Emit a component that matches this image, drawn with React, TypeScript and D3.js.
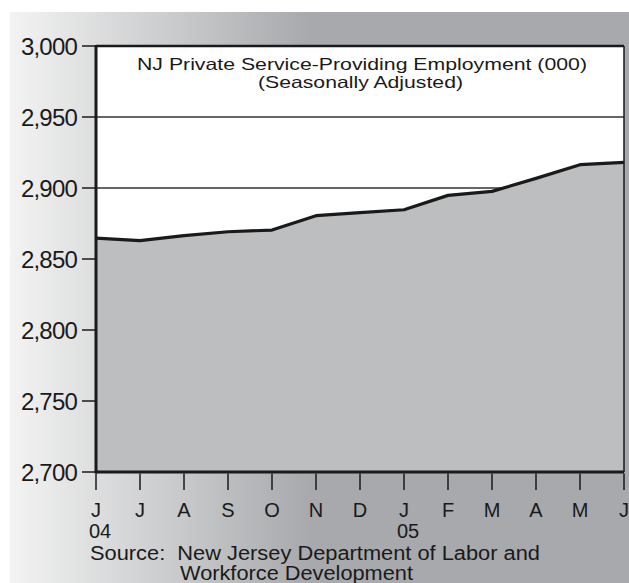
import React from "react";
import * as d3 from "d3";

const months = ["J", "J", "A", "S", "O", "N", "D", "J", "F", "M", "A", "M", "J"];
const yearLabels = [
  { index: 0, label: "04" },
  { index: 7, label: "05" },
];
const employment = [2864.7, 2863.0, 2866.4, 2869.2, 2870.4, 2880.5, 2882.6, 2884.7, 2894.8, 2897.6, 2906.8, 2916.4, 2918.0];
const yTicks = [2700, 2750, 2800, 2850, 2900, 2950, 3000];
const titleLines = ["NJ Private Service-Providing Employment (000)", "(Seasonally Adjusted)"];
const sourceLines = ["Source:  New Jersey Department of Labor and", "Workforce Development"];

const W = 629;
const H = 583;
const FONT = "'Liberation Sans', Arial, Helvetica, sans-serif";

export default function App() {
  const x = d3.scaleLinear().domain([0, months.length - 1]).range([96, 624]);
  const y = d3.scaleLinear().domain([2700, 3000]).range([472, 46]);
  const fmt = d3.format(",");

  const area = d3
    .area<number>()
    .x((_, i) => x(i))
    .y0(y(2700))
    .y1((d) => y(d))(employment) as string;
  const line = d3
    .line<number>()
    .x((_, i) => x(i))
    .y((d) => y(d))(employment) as string;

  return (
    <svg width={W} height={H} style={{ position: "absolute", left: 0, top: 0 }} fontFamily={FONT}>
      <defs>
        <linearGradient id="bg" gradientUnits="userSpaceOnUse" x1={10} y1={0} x2={310} y2={0}>
          <stop offset="0" stopColor="#f3f3f3" />
          <stop offset="1" stopColor="#a7a9ac" />
        </linearGradient>
      </defs>
      <rect x={0} y={0} width={W} height={H} fill="#ffffff" />
      <rect x={10} y={12} width={W - 10} height={H - 12} fill="url(#bg)" />
      {/* plot background */}
      <rect x={x(0)} y={y(3000)} width={x(12) - x(0)} height={y(2700) - y(3000)} fill="#ffffff" />
      {/* grid lines */}
      {yTicks.map((t) => (
        <line key={"g" + t} x1={x(0)} x2={x(12)} y1={y(t)} y2={y(t)} stroke="#333" strokeWidth={1.5} />
      ))}
      <path d={area} fill="#bdbec0" />
      <path d={line} fill="none" stroke="#1a1a1a" strokeWidth={3.2} strokeLinejoin="round" />
      {/* frame */}
      <line x1={x(0)} x2={x(12)} y1={y(3000)} y2={y(3000)} stroke="#1a1a1a" strokeWidth={2.5} />
      <line x1={x(12)} x2={x(12)} y1={y(3000)} y2={y(2700)} stroke="#1a1a1a" strokeWidth={1.5} />
      <line x1={x(0)} x2={x(12)} y1={y(2700)} y2={y(2700)} stroke="#1a1a1a" strokeWidth={3} />
      <line x1={x(0)} x2={x(0)} y1={y(3000) - 1} y2={y(2700) + 1.5} stroke="#1a1a1a" strokeWidth={3} />
      {/* y ticks */}
      {yTicks.map((t) => (
        <g key={"t" + t}>
          <line x1={82} x2={x(0)} y1={y(t)} y2={y(t)} stroke="#1a1a1a" strokeWidth={1.5} />
          <text x={77} y={y(t) + 8.5} textAnchor="end" fontSize={24} letterSpacing={-0.8} fill="#1a1a1a">
            {fmt(t)}
          </text>
        </g>
      ))}
      {/* x ticks */}
      {months.map((m, i) => (
        <g key={"m" + i}>
          <line x1={x(i)} x2={x(i)} y1={y(2700) + 1.5} y2={490} stroke="#1a1a1a" strokeWidth={1.5} />
          <text x={x(i)} y={516.5} textAnchor="middle" fontSize={20} fill="#1a1a1a">
            {m}
          </text>
        </g>
      ))}
      {yearLabels.map((yl) => (
        <text key={yl.label} x={x(yl.index) - 7} y={538} textAnchor="start" fontSize={20} fill="#1a1a1a">
          {yl.label}
        </text>
      ))}
      {/* title */}
      <text x={137} y={69.5} fontSize={16.5} fill="#1a1a1a" textLength={450} lengthAdjust="spacingAndGlyphs">
        {titleLines[0]}
      </text>
      <text x={258} y={87.5} fontSize={16.5} fill="#1a1a1a" textLength={205} lengthAdjust="spacingAndGlyphs">
        {titleLines[1]}
      </text>
      {/* source */}
      <text x={90} y={560} fontSize={19.5} fill="#1a1a1a" xmlSpace="preserve" textLength={450} lengthAdjust="spacingAndGlyphs">
        {sourceLines[0]}
      </text>
      <text x={180} y={580} fontSize={19.5} fill="#1a1a1a" textLength={233} lengthAdjust="spacingAndGlyphs">
        {sourceLines[1]}
      </text>
    </svg>
  );
}
